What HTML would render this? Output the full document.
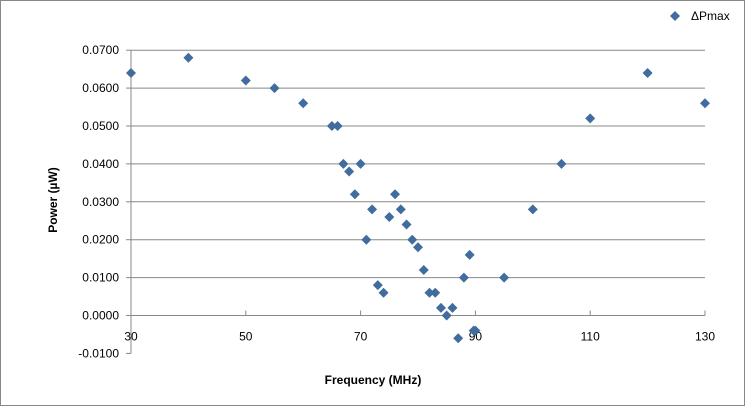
<!DOCTYPE html>
<html><head><meta charset="utf-8"><style>
html,body{margin:0;padding:0;background:#fff}
svg{display:block;font-family:"Liberation Sans",Arial,sans-serif}
</style></head><body>
<svg width="745" height="406">
<rect x="0.5" y="0.5" width="744" height="405" fill="#fff" stroke="#888"/>
<g id="grid"></g><g id="axes"></g><g id="pts"></g>
<text x="57" y="200" transform="rotate(-90 57 200)" text-anchor="middle" font-size="12" font-weight="bold">Power (µW)</text>
<text x="373" y="384" text-anchor="middle" font-size="12" font-weight="bold">Frequency (MHz)</text>
<g>
<path d="M675 11 L680 16 L675 21 L670 16 Z" fill="#416d9e"/>
<text x="691" y="20" font-size="12">ΔPmax</text></g>
</svg>
<script>
const freqs=[30,40,50,55,60,65,66,67,68,69,70,71,72,73,74,75,76,77,78,79,80,81,82,83,84,85,86,87,88,89,89.7,90,95,100,105,110,120,130];
const power=[0.064,0.068,0.062,0.060,0.056,0.050,0.050,0.040,0.038,0.032,0.040,0.020,0.028,0.008,0.006,0.026,0.032,0.028,0.024,0.020,0.018,0.012,0.006,0.006,0.002,0.000,0.002,-0.006,0.010,0.016,-0.004,-0.004,0.010,0.028,0.040,0.052,0.064,0.056];
const yTicks=[-0.01,0,0.01,0.02,0.03,0.04,0.05,0.06,0.07];
const xTicks=[30,50,70,90,110,130];
const NS="http://www.w3.org/2000/svg";
const X=f=>131+(f-30)*5.74;
const Y=v=>315.5-v*3790;
function mk(tag,attrs,parent,txt){const e=document.createElementNS(NS,tag);for(const k in attrs)e.setAttribute(k,attrs[k]);if(txt!==undefined)e.textContent=txt;document.getElementById(parent).appendChild(e);return e;}
yTicks.forEach(v=>{
  if(v!==0&&v!==-0.01){const l=mk('line',{x1:131,x2:705,y1:Y(v),y2:Y(v),stroke:'#888','stroke-width':1},'grid');
  
  }
  const t=mk('text',{x:119,y:Y(v)+4,'text-anchor':'end','font-size':12},'axes',v.toFixed(4));
  
  
  const tk=mk('line',{x1:126,x2:131,y1:Y(v),y2:Y(v),stroke:'#888'},'axes');
  
  
});
const ya=mk('line',{x1:131,x2:131,y1:Y(0.07),y2:Y(-0.01),stroke:'#888'},'axes');


const xa=mk('line',{x1:131,x2:705,y1:Y(0),y2:Y(0),stroke:'#888'},'axes');


xTicks.forEach(f=>{
  const tk=mk('line',{x1:X(f),x2:X(f),y1:Y(0)-5,y2:Y(0),stroke:'#888'},'axes');
  
  
  const t=mk('text',{x:X(f),y:Y(0)+25,'text-anchor':'middle','font-size':12},'axes',String(f));
  
  
});
freqs.forEach((f,i)=>{
  const x=X(f),y=Y(power[i]);
  const p=mk('path',{d:`M${x} ${y-5}L${x+5} ${y}L${x} ${y+5}L${x-5} ${y}Z`,fill:'#416d9e'},'pts');
  
  
});
</script>
</body></html>
